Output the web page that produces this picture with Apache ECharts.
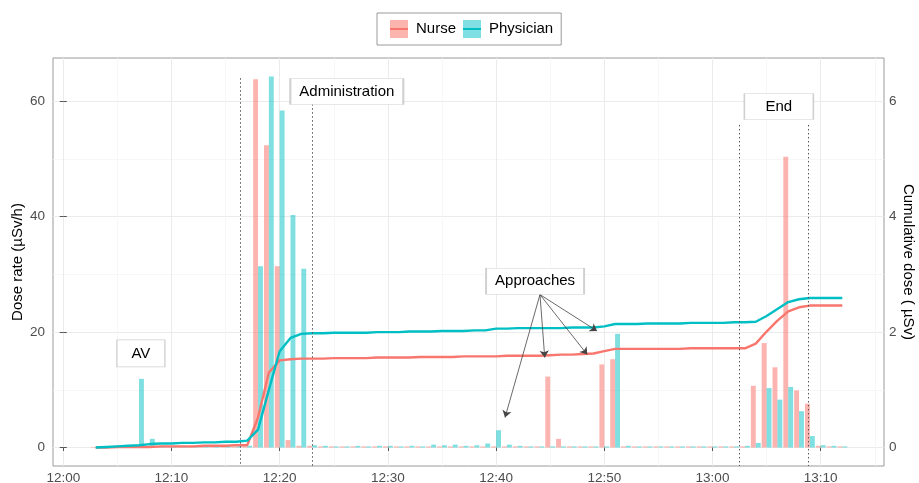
<!DOCTYPE html>
<html><head><meta charset="utf-8">
<script src="https://cdn.jsdelivr.net/npm/echarts@6/dist/echarts.min.js"></script>
<style>html,body{margin:0;padding:0;background:#fff}#c{width:919px;height:483px}</style>
</head><body><div id="c"></div>
<script>
// ---- data ----
const times = ['12:03','12:04','12:05','12:06','12:07','12:08','12:09','12:10','12:11','12:12',
  '12:13','12:14','12:15','12:16','12:17','12:18','12:19','12:20','12:21','12:22',
  '12:23','12:24','12:25','12:26','12:27','12:28','12:29','12:30','12:31','12:32',
  '12:33','12:34','12:35','12:36','12:37','12:38','12:39','12:40','12:41','12:42',
  '12:43','12:44','12:45','12:46','12:47','12:48','12:49','12:50','12:51','12:52',
  '12:53','12:54','12:55','12:56','12:57','12:58','12:59','13:00','13:01','13:02',
  '13:03','13:04','13:05','13:06','13:07','13:08','13:09','13:10','13:11','13:12'];
const nurseRate = [0.1,0.1,0.1,0.1,0.1,0.1,0.1,0.1,0.1,0.1,
  0.1,0.1,0.1,0.1,0.2,63.8,52.4,31.4,1.3,0.3,
  0.3,0.2,0.2,0.2,0.2,0.2,0.2,0.2,0.2,0.2,
  0.2,0.2,0.2,0.2,0.2,0.2,0.2,0.2,0.2,0.2,
  0.2,0.2,12.3,1.5,0.2,0.2,0.2,14.4,15.3,0.2,
  0.2,0.2,0.2,0.2,0.2,0.2,0.2,0.2,0.2,0.2,
  0.2,10.7,18.1,13.9,50.4,9.9,7.6,0.3,0.2,0.2];
const physicianRate = [0.1,0.1,0.1,0.1,11.9,1.5,0.2,0.2,0.2,0.2,
  0.2,0.2,0.2,0.2,0.3,31.4,64.3,58.4,40.3,31.0,
  0.4,0.3,0.2,0.2,0.3,0.2,0.3,0.3,0.2,0.3,
  0.2,0.5,0.4,0.5,0.3,0.4,0.7,3.0,0.5,0.3,
  0.2,0.2,0.2,0.2,0.2,0.2,0.2,0.2,19.7,0.3,
  0.2,0.2,0.2,0.2,0.2,0.2,0.2,0.2,0.2,0.2,
  0.3,0.8,10.3,8.3,10.5,6.3,2.0,0.4,0.3,0.2];
const nurseCum = [0.00,0.00,0.01,0.01,0.01,0.01,0.02,0.02,0.02,0.02,
  0.03,0.03,0.03,0.04,0.04,0.52,1.30,1.51,1.53,1.54,
  1.54,1.54,1.55,1.55,1.55,1.55,1.56,1.56,1.56,1.56,
  1.57,1.57,1.57,1.57,1.58,1.58,1.58,1.58,1.59,1.59,
  1.59,1.59,1.60,1.61,1.61,1.62,1.63,1.67,1.71,1.71,
  1.71,1.71,1.71,1.71,1.71,1.72,1.72,1.72,1.72,1.72,
  1.72,1.80,2.01,2.20,2.36,2.43,2.46,2.46,2.46,2.46];
const physicianCum = [0.00,0.01,0.02,0.03,0.04,0.06,0.07,0.07,0.08,0.08,
  0.09,0.09,0.10,0.10,0.12,0.31,1.00,1.67,1.90,1.97,
  1.98,1.98,1.99,1.99,1.99,1.99,2.00,2.00,2.00,2.01,
  2.01,2.01,2.02,2.02,2.02,2.03,2.03,2.06,2.06,2.07,
  2.07,2.07,2.07,2.07,2.08,2.08,2.08,2.10,2.14,2.14,
  2.14,2.15,2.15,2.15,2.15,2.16,2.16,2.16,2.16,2.17,
  2.17,2.18,2.28,2.40,2.52,2.57,2.59,2.59,2.59,2.59];
const xTickLabels = ['12:00','12:10','12:20','12:30','12:40','12:50','13:00','13:10'];
const xMinorLabels = ['12:05','12:15','12:25','12:35','12:45','12:55','13:05','13:15'];
const yLeftTicks = [0,20,40,60];
const yLeftMinor = [10,30,50];
const yRightTicks = [0,2,4,6];
// annotations (minutes after 12:00, left-axis value)
const phaseTimes = [16.54, 23.2, 62.7, 69.1];
const phaseTops = [64.0, 59.5, 55.9, 55.9];
const labelTexts = ['AV','Administration','Approaches','End'];
const labelTimes = [7.4, 26.43, 43.83, 66.36];
const labelValues = [16.3, 61.7, 28.8, 59.1];
const arrowFrom = [43.83, 26.5];
const arrowTimes = [40.6, 44.27, 48.2, 49.1];
const arrowValues = [5.2, 15.6, 16.1, 20.2];

// ---- helpers ----
const FONT = '"Liberation Sans", Arial, Helvetica, sans-serif';
const toMin = t => { const p = t.split(':').map(Number); return (p[0]-12)*60 + p[1]; };
const xTickVals = xTickLabels.map(toMin);
const xMinorVals = xMinorLabels.map(toMin);
const X_MIN = -0.95, X_MAX = 75.85, Y_MIN = -3.2, Y_MAX = 67.5;
const labelSizes = [[48,27],[113,26],[98,26],[69,26]];
const RED = '#F8766D', TEAL = '#00BFC4';
const stripe = (bg, fg) => ({type:'linear', x:0, y:0, x2:0, y2:1, colorStops:[
  {offset:0,color:bg},{offset:0.43,color:bg},{offset:0.43,color:fg},{offset:0.57,color:fg},{offset:0.57,color:bg},{offset:1,color:bg}]});

const chart = echarts.init(document.getElementById('c'), null, {renderer:'canvas'});
const tickLine = {color:'#555', width:1};
const option = {
  animation: false,
  textStyle: {fontFamily: FONT},
  grid: {left:53, right:35, top:58, bottom:17, show:true, borderColor:'#9a9a9a', borderWidth:1,
         backgroundColor:'#fff', containLabel:false, outerBoundsMode:'none'},
  legend: {
    left: 377, top: 13, padding:[7,8,7,13], borderColor:'#9a9a9a', borderWidth:1,
    itemWidth:18, itemHeight:18, itemGap:7,
    textStyle:{fontSize:15, color:'#000', fontFamily:FONT, padding:[0,0,0,3]},
    data:[
      {name:'Nurse', icon:'rect', itemStyle:{color: stripe('#FBB4AE', RED)}},
      {name:'Physician', icon:'rect', itemStyle:{color: stripe('#80DFE2', TEAL)}}
    ]
  },
  xAxis: [
    {type:'value', min:X_MIN, max:X_MAX, position:'bottom',
     axisLine:{show:false},
     axisTick:{show:true, length:3.5, customValues:xTickVals, lineStyle:tickLine},
     axisLabel:{customValues:xTickVals, color:'#4d4d4d', fontSize:13.5, margin:5,
       formatter: v => xTickLabels[xTickVals.indexOf(v)] || ''},
     splitLine:{show:true, lineStyle:{color:'#EBEBEB', width:1}}},
    {type:'value', min:X_MIN, max:X_MAX, position:'bottom',
     axisLine:{show:false}, axisTick:{show:false, customValues:xMinorVals}, axisLabel:{show:false},
     splitLine:{show:true, lineStyle:{color:'#F5F5F5', width:0.8}}}
  ],
  yAxis: [
    {type:'value', position:'left', min:Y_MIN, max:Y_MAX,
     name:'Dose rate (µSv/h)', nameLocation:'middle', nameGap:28, nameRotate:90, nameMoveOverlap:false,
     nameTextStyle:{fontSize:15, color:'#000'},
     axisLine:{show:false},
     axisTick:{show:true, length:3.5, customValues:yLeftTicks, lineStyle:tickLine},
     axisLabel:{customValues:yLeftTicks, color:'#4d4d4d', fontSize:13.5, margin:8},
     splitLine:{show:true, lineStyle:{color:'#EBEBEB', width:1}}},
    {type:'value', position:'right', min:Y_MIN/10, max:Y_MAX/10,
     name:'Cumulative dose ( µSv)', nameLocation:'middle', nameGap:17, nameRotate:-90, nameMoveOverlap:false,
     nameTextStyle:{fontSize:15, color:'#000'},
     axisLine:{show:false},
     axisTick:{show:true, length:3.5, customValues:yRightTicks, lineStyle:tickLine},
     axisLabel:{customValues:yRightTicks, color:'#4d4d4d', fontSize:13.5, margin:5},
     splitLine:{show:false}},
    {type:'value', position:'left', min:Y_MIN, max:Y_MAX,
     axisLine:{show:false}, axisTick:{show:false, customValues:yLeftMinor}, axisLabel:{show:false},
     splitLine:{show:true, lineStyle:{color:'#F5F5F5', width:0.8}}}
  ],
  series: [
    {name:'Nurse', type:'bar', xAxisIndex:0, yAxisIndex:0, barWidth:4.9, barGap:'0%', silent:true, z:2,
     itemStyle:{color:'rgba(248,118,109,0.55)'},
     data: times.map((t,i) => [toMin(t), nurseRate[i]]),
     markLine:{silent:true, symbol:['none','none'], label:{show:false}, emphasis:{disabled:true},
       lineStyle:{type:[1.5,2.5], color:'#555', width:1},
       data: phaseTimes.map((t,i) => [{coord:[t, phaseTops[i]]}, {coord:[t, Y_MIN]}])},
     markPoint:{silent:true,
       data: labelTexts.map((s,i) => ({name:s, coord:[labelTimes[i], labelValues[i]], symbol:'rect',
         symbolSize:labelSizes[i], itemStyle:{color:'#fff', borderColor:'#d0d0d0', borderWidth:1},
         label:{show:true, position:'inside', formatter:s, color:'#000', fontSize:15, fontFamily:FONT}}))}
    },
    {name:'Physician', type:'bar', xAxisIndex:0, yAxisIndex:0, barWidth:4.9, barGap:'0%', silent:true, z:2,
     itemStyle:{color:'rgba(0,191,196,0.5)'},
     data: times.map((t,i) => [toMin(t), physicianRate[i]]),
     markLine:{silent:true, symbol:['none','arrow'], symbolSize:7, label:{show:false}, emphasis:{disabled:true},
       lineStyle:{type:'solid', color:'#444', width:0.8},
       data: arrowTimes.map((t,i) => [{coord:arrowFrom}, {coord:[t, arrowValues[i]]}])}
    },
    {name:'Nurse', type:'line', xAxisIndex:0, yAxisIndex:1, showSymbol:false, silent:true, z:3,
     lineStyle:{color:RED, width:2.4}, itemStyle:{color:RED},
     data: times.map((t,i) => [toMin(t), nurseCum[i]])},
    {name:'Physician', type:'line', xAxisIndex:0, yAxisIndex:1, showSymbol:false, silent:true, z:3,
     lineStyle:{color:TEAL, width:2.4}, itemStyle:{color:TEAL},
     data: times.map((t,i) => [toMin(t), physicianCum[i]])}
  ]
};
chart.setOption(option);
</script></body></html>
